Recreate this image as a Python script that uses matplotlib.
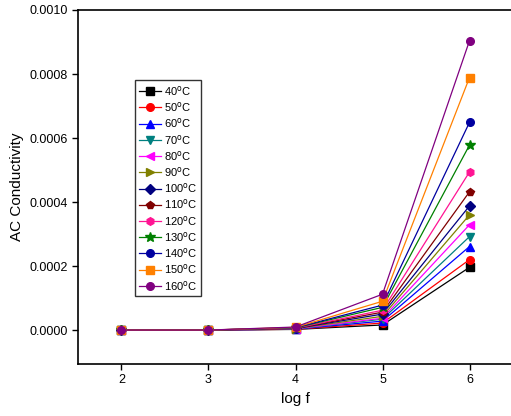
import matplotlib
matplotlib.use("Agg")
import matplotlib.pyplot as plt

plt.rcParams['font.family'] = ['Liberation Sans', 'DejaVu Sans']

log_f = [2, 3, 4, 5, 6]
temps = [40, 50, 60, 70, 80, 90, 100, 110, 120, 130, 140, 150, 160]
labels = [f"{t}$^{{\\mathrm{{o}}}}$C" for t in temps]

s40 = [0.0, 0.0, 0.0000020, 0.0000160, 0.000196]
s50 = [0.0, 0.0, 0.0000025, 0.0000220, 0.000220]
s60 = [0.0, 0.0, 0.0000030, 0.0000280, 0.000261]
s70 = [0.0, 0.0, 0.0000035, 0.0000340, 0.000292]
s80 = [0.0, 0.0, 0.0000040, 0.0000370, 0.000329]
s90 = [0.0, 0.0, 0.0000045, 0.0000430, 0.000360]
s100 = [0.0, 0.0, 0.0000050, 0.0000500, 0.000388]
s110 = [0.0, 0.0, 0.0000055, 0.0000560, 0.000432]
s120 = [0.0, 0.0, 0.0000060, 0.0000620, 0.000494]
s130 = [0.0, 0.0, 0.0000070, 0.0000710, 0.000578]
s140 = [0.0, 0.0, 0.0000075, 0.0000780, 0.000649]
s150 = [0.0, 0.0, 0.0000085, 0.0000900, 0.000789]
s160 = [0.0, 0.0, 0.0000095, 0.0001120, 0.000904]
series = [s40, s50, s60, s70, s80, s90, s100, s110, s120, s130, s140, s150, s160]

colors = ['#000000', '#FF0000', '#0000FF', '#008080', '#FF00FF', '#808000',
          '#000080', '#800000', '#FF1493', '#008000', '#0000A0', '#FF8000', '#800080']
markers = ['s', 'o', '^', 'v', '<', '>', 'D', 'p', 'h', '*', 'o', 's', 'o']

fig = plt.figure(figsize=(5.11, 4.16), dpi=100)
ax = fig.add_axes([78/511, (416-364)/416, 435/511, 354/416])

for ys, c, m, lab in zip(series, colors, markers, labels):
    ms = 7 if m == '*' else 5.5
    ax.plot(log_f, ys, color=c, marker=m, markersize=ms, linewidth=0.9, label=lab)

ax.set_xlim(1.5, 6.5)
ax.set_ylim(-0.000106, 0.001)
ax.set_xticks([2, 3, 4, 5, 6])
ax.set_yticks([0.0, 0.0002, 0.0004, 0.0006, 0.0008, 0.0010])
ax.set_yticklabels(['0.0000', '0.0002', '0.0004', '0.0006', '0.0008', '0.0010'])
ax.tick_params(direction='out', labelsize=9, length=4, width=1)
ax.set_xlabel('log f', fontsize=11)
ax.set_ylabel('AC Conductivity', fontsize=11)
for sp in ax.spines.values():
    sp.set_linewidth(1.2)

leg = ax.legend(loc='upper left', bbox_to_anchor=((135-78)/435, (364-80)/354),
                borderaxespad=0, fontsize=8, frameon=True, fancybox=False,
                edgecolor='black', labelspacing=0.2, handlelength=2.0,
                handletextpad=0.25, borderpad=0.35, markerscale=1.0)
leg.get_frame().set_linewidth(1)

fig.savefig('out.png', dpi=100)
